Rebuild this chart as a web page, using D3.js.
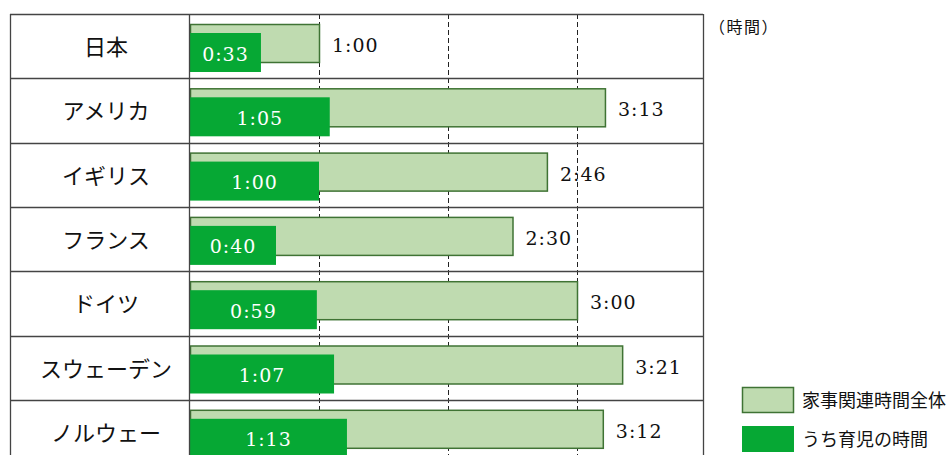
<!DOCTYPE html>
<html><head><meta charset="utf-8">
<script src="https://cdn.jsdelivr.net/npm/d3@7"></script>
<style>body{margin:0;background:#fff}svg{display:block}</style>
</head><body>
<svg id="c" width="948" height="455"></svg>
<script>
const countries = ["日本","アメリカ","イギリス","フランス","ドイツ","スウェーデン","ノルウェー"];
const totalLabels = ["1:00","3:13","2:46","2:30","3:00","3:21","3:12"];
const childLabels = ["0:33","1:05","1:00","0:40","0:59","1:07","1:13"];
const gridTicks = [60,120,180];
const legendLabels = ["家事関連時間全体","うち育児の時間"];
const unitLabel = "（時間）";

const toMin = s => { const [h,m] = s.split(":").map(Number); return h*60+m; };
const totals = totalLabels.map(toMin);
const childs = childLabels.map(toMin);

const svg = d3.select("#c");
const L = 10, SPLIT = 190, R = 703, T = 14, ROWH = 64.3;
const x = d3.scaleLinear().domain([0,240]).range([SPLIT, SPLIT + 240*2.15]);
const y = d3.scaleBand().domain(countries).range([T, T + ROWH*countries.length]).padding(0);

const cjk = "'Noto Sans CJK JP', 'Noto Sans', sans-serif";
const serif = "'DejaVu Serif', 'Liberation Serif', serif";
const lightFill = "#bfdbb0", lightStroke = "#3f7334", darkFill = "#06a834";

// grid lines
svg.append("g").selectAll("line").data(gridTicks).join("line")
  .attr("x1", d => Math.round(x(d))+0.5).attr("x2", d => Math.round(x(d))+0.5)
  .attr("y1", T).attr("y2", 455)
  .attr("stroke", "#222").attr("stroke-width", 1).attr("stroke-dasharray", "5,3");

// bars
const rows = svg.append("g").selectAll("g").data(countries).join("g");
rows.append("rect")
  .attr("x", SPLIT+0.5).attr("y", d => y(d)+10.5)
  .attr("width", (d,i) => x(totals[i]) - SPLIT).attr("height", 38)
  .attr("fill", lightFill).attr("stroke", lightStroke).attr("stroke-width", 1.5);
rows.append("rect")
  .attr("x", SPLIT).attr("y", d => y(d)+19)
  .attr("width", (d,i) => x(childs[i]) - SPLIT).attr("height", 39)
  .attr("fill", darkFill);

// child labels inside green
rows.append("text")
  .attr("x", (d,i) => (SPLIT + x(childs[i]))/2).attr("y", d => y(d)+46.5)
  .attr("text-anchor", "middle").attr("fill", "#fff")
  .attr("font-family", serif).attr("font-size", 19).attr("letter-spacing", 1)
  .text((d,i) => childLabels[i]);
// total labels
rows.append("text")
  .attr("x", (d,i) => x(totals[i]) + 13).attr("y", d => y(d)+38)
  .attr("fill", "#111")
  .attr("font-family", serif).attr("font-size", 19).attr("letter-spacing", 1)
  .text((d,i) => totalLabels[i]);

// country labels
svg.append("g").selectAll("text").data(countries).join("text")
  .attr("x", 106).attr("y", d => y(d) + ROWH/2 + 9)
  .attr("text-anchor", "middle").attr("fill", "#111")
  .attr("font-family", cjk).attr("font-size", 22)
  .text(d => d);

// table lines
const tg = svg.append("g").attr("stroke", "#444").attr("stroke-width", 1.3).attr("fill", "none");
countries.forEach(c => {
  tg.append("line").attr("x1", L).attr("x2", R).attr("y1", Math.round(y(c))+0.5).attr("y2", Math.round(y(c))+0.5);
});
tg.append("line").attr("x1", L+0.5).attr("x2", L+0.5).attr("y1", T).attr("y2", 455);
tg.append("line").attr("x1", SPLIT-0.5).attr("x2", SPLIT-0.5).attr("y1", T).attr("y2", 455);
tg.append("line").attr("x1", R+0.5).attr("x2", R+0.5).attr("y1", T).attr("y2", 455);

// unit label
svg.append("text").attr("x", 709).attr("y", 33).attr("fill", "#111")
  .attr("font-family", cjk).attr("font-size", 16).attr("letter-spacing", 1.5).text(unitLabel);

// legend
const lg = svg.append("g");
lg.append("rect").attr("x", 742.5).attr("y", 387.5).attr("width", 51).attr("height", 25)
  .attr("fill", lightFill).attr("stroke", lightStroke).attr("stroke-width", 1.5);
lg.append("rect").attr("x", 742).attr("y", 426).attr("width", 52).attr("height", 26).attr("fill", darkFill);
lg.selectAll("text").data(legendLabels).join("text")
  .attr("x", 802).attr("y", (d,i) => 407 + i*39).attr("fill", "#111")
  .attr("font-family", cjk).attr("font-size", 18).text(d => d);
</script>
</body></html>
